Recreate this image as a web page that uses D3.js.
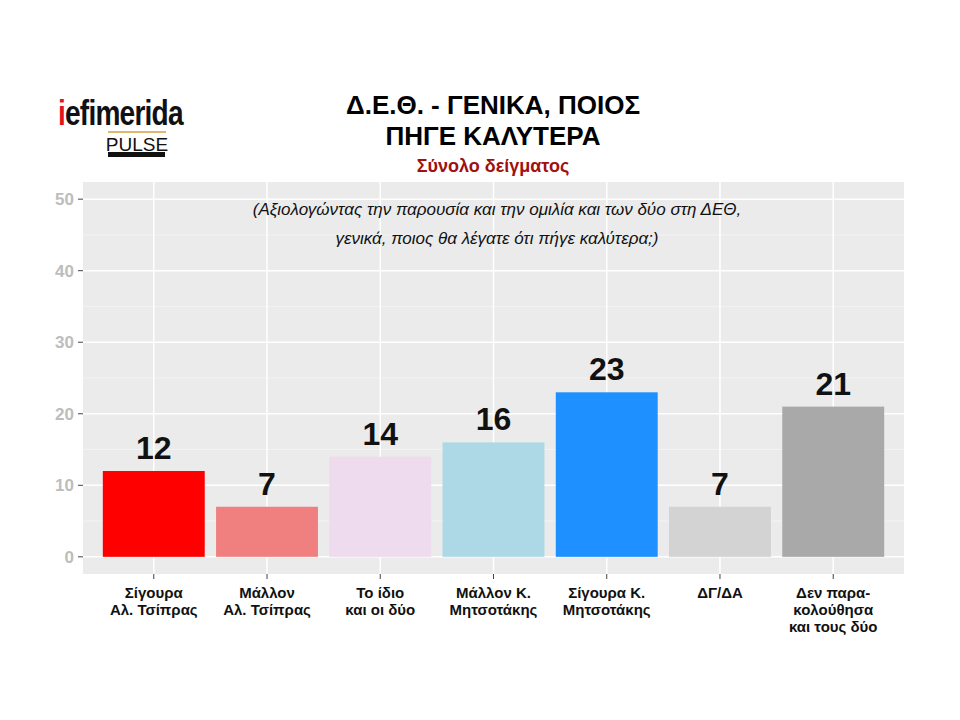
<!DOCTYPE html><html><head><meta charset="utf-8">
<script src="https://d3js.org/d3.v7.min.js"></script>
<style>body{margin:0;background:#fff}text{font-family:"Liberation Sans",Arial,sans-serif}</style></head><body>
<svg id="c" width="960" height="720"></svg>
<script>
const categories=[["Σίγουρα","Αλ. Τσίπρας"],["Μάλλον","Αλ. Τσίπρας"],["Το ίδιο","και οι δύο"],["Μάλλον Κ.","Μητσοτάκης"],["Σίγουρα Κ.","Μητσοτάκης"],["ΔΓ/ΔΑ"],["Δεν παρα-","κολούθησα","και τους δύο"]];
const values=[12,7,14,16,23,7,21];
const colors=["#ff0000","#f08080","#eedcee","#add8e6","#1e90ff","#d3d3d3","#a9a9a9"];
const yTicks=[0,10,20,30,40,50];
const svg=d3.select("#c");
const L=83,R=904,T=182,B=574;
const step=(R-L)/(values.length-1+1.25);
const x=d3.scalePoint().domain(d3.range(values.length)).range([L+0.625*step,R-0.625*step]);
const cx=i=>x(i);
const bw=step*0.9;
const y=d3.scaleLinear().domain([-2.4,52.4]).range([B,T]);
svg.append("rect").attr("x",L).attr("y",T).attr("width",R-L).attr("height",B-T).attr("fill","#ebebeb");
const minor=[5,15,25,35,45];
svg.selectAll(".mn").data(minor).enter().append("line").attr("x1",L).attr("x2",R).attr("y1",d=>y(d)).attr("y2",d=>y(d)).attr("stroke","#f5f5f5").attr("stroke-width",0.8);
svg.selectAll(".mj").data(yTicks).enter().append("line").attr("x1",L).attr("x2",R).attr("y1",d=>y(d)).attr("y2",d=>y(d)).attr("stroke","#fff").attr("stroke-width",1.5);
svg.selectAll(".vx").data(values).enter().append("line").attr("x1",(d,i)=>cx(i)).attr("x2",(d,i)=>cx(i)).attr("y1",T).attr("y2",B).attr("stroke","#fff").attr("stroke-width",1.5);
svg.selectAll(".bar").data(values).enter().append("rect").attr("x",(d,i)=>cx(i)-bw/2).attr("width",bw).attr("y",d=>y(d)).attr("height",d=>y(0)-y(d)).attr("fill",(d,i)=>colors[i]);
svg.selectAll(".vl").data(values).enter().append("text").attr("x",(d,i)=>cx(i)).attr("y",d=>y(d)-12).attr("text-anchor","middle").attr("font-size",32).attr("font-weight","bold").attr("fill","#111").text(d=>d);
yTicks.forEach(t=>{svg.append("line").attr("x1",L-5).attr("x2",L).attr("y1",y(t)).attr("y2",y(t)).attr("stroke","#444");
svg.append("text").attr("x",L-9).attr("y",y(t)+6).attr("text-anchor","end").attr("font-size",17).attr("font-weight","bold").attr("fill","#bdbdbd").text(t);});
categories.forEach((c,i)=>{svg.append("line").attr("x1",cx(i)).attr("x2",cx(i)).attr("y1",B).attr("y2",B+5).attr("stroke","#444");
const t=svg.append("text").attr("x",cx(i)).attr("y",B+24).attr("text-anchor","middle").attr("font-size",15).attr("font-weight","bold").attr("fill","#111");
c.forEach((l,j)=>t.append("tspan").attr("x",cx(i)).attr("dy",j?17:0).text(l));});
svg.append("text").attr("x",493).attr("y",114).attr("text-anchor","middle").attr("font-size",26).attr("font-weight","bold").text("Δ.Ε.Θ. - ΓΕΝΙΚΑ, ΠΟΙΟΣ");
svg.append("text").attr("x",493).attr("y",145).attr("text-anchor","middle").attr("font-size",26).attr("font-weight","bold").text("ΠΗΓΕ ΚΑΛΥΤΕΡΑ");
svg.append("text").attr("x",493).attr("y",172).attr("text-anchor","middle").attr("font-size",18).attr("font-weight","bold").attr("fill","#a01010").text("Σύνολο δείγματος");
svg.append("text").attr("x",497).attr("y",215).attr("text-anchor","middle").attr("font-size",17).attr("font-style","italic").attr("fill","#111").text("(Αξιολογώντας την παρουσία και την ομιλία και των δύο στη ΔΕΘ,");
svg.append("text").attr("x",497).attr("y",244).attr("text-anchor","middle").attr("font-size",17).attr("font-style","italic").attr("fill","#111").text("γενικά, ποιος θα λέγατε ότι πήγε καλύτερα;)");
const lg=svg.append("g").attr("transform","translate(58,125) scale(0.78,1)");
lg.append("text").attr("x",0).attr("y",0).attr("font-size",36).attr("font-weight","bold").attr("letter-spacing",-1).attr("fill","#e3141b").text("i")
 .append("tspan").attr("fill","#111").text("efimerida");
svg.append("line").attr("x1",108).attr("x2",166).attr("y1",132).attr("y2",132).attr("stroke","#d4a040").attr("stroke-width",1.5);
svg.append("text").attr("x",137).attr("y",151).attr("text-anchor","middle").attr("font-size",19).attr("font-family","Liberation Serif,serif").attr("fill","#111").text("PULSE");
svg.append("rect").attr("x",108).attr("y",152).attr("width",57).attr("height",5).attr("fill","#111");
</script></body></html>
